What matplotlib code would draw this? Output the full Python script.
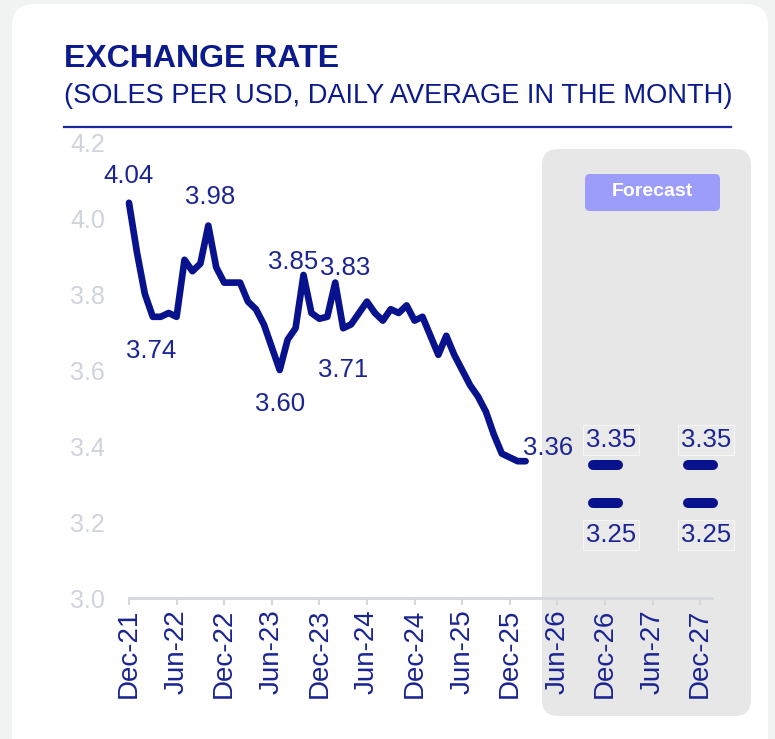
import matplotlib
matplotlib.use('Agg')
import matplotlib.pyplot as plt
import numpy as np
from matplotlib.patches import FancyBboxPatch
from matplotlib.markers import MarkerStyle
from matplotlib.transforms import IdentityTransform

# soles per USD, monthly average of daily rates, Dec-21 .. Feb-26
rate = [4.04, 3.91, 3.80, 3.74, 3.74, 3.75, 3.74, 3.89, 3.86, 3.88,
        3.98, 3.87, 3.83, 3.83, 3.83, 3.78, 3.76, 3.72, 3.66, 3.60,
        3.68, 3.71, 3.85, 3.75, 3.735, 3.74, 3.83, 3.71, 3.72, 3.75,
        3.78, 3.75, 3.73, 3.76, 3.75, 3.77, 3.73, 3.74, 3.69, 3.64,
        3.69, 3.64, 3.60, 3.56, 3.53, 3.49, 3.43, 3.38, 3.37, 3.36, 3.36]

# months (from Dec-21) that get a value label
labeled = [0, 3, 10, 19, 22, 26, 27, 50]

# forecast range for Dec-26 and Dec-27
fc_month = [60, 72]
fc_high = [3.35, 3.35]
fc_low = [3.25, 3.25]

tick_labels = ['Dec-21', 'Jun-22', 'Dec-22', 'Jun-23', 'Dec-23', 'Jun-24', 'Dec-24',
               'Jun-25', 'Dec-25', 'Jun-26', 'Dec-26', 'Jun-27', 'Dec-27']
y_ticks = [3.0, 3.2, 3.4, 3.6, 3.8, 4.0, 4.2]

NAVY = '#07128c'
TXT = '#1a2492'
GREY_TXT = '#cfd3db'
W, H = 775, 739

# label offsets in pixels
offsets = {0: (0, 27), 3: (-2, -34), 10: (2, 29), 19: (0, -34),
           22: (-10, 13), 26: (10, 15), 27: (0, -42), 50: (22, 13)}

fig = plt.figure(figsize=(W / 100, H / 100), dpi=100, facecolor='#f1f2f2')

def px_box(x0, y0, x1, y1, color, r, z):
    # rounded box in pixel coords, y measured from the top
    p = FancyBboxPatch((x0, H - y1), x1 - x0, y1 - y0,
                       boxstyle=f'round,pad=0,rounding_size={r}',
                       transform=IdentityTransform(), facecolor=color,
                       edgecolor='none', zorder=z)
    fig.patches.append(p)

px_box(12, 4, 768, 780, 'white', 22, 0)
px_box(542, 149, 751, 716, '#e7e7e7', 16, 1)

fig.text(64 / W, 1 - 59 / H, 'EXCHANGE RATE', fontsize=23, fontweight='bold',
         color='#0b1a8c', family='Liberation Sans', va='center')
fig.text(64 / W, 1 - 96 / H, '(SOLES PER USD, DAILY AVERAGE IN THE MONTH)', fontsize=19.6,
         color='#0b1a8c', family='Liberation Sans', va='center')
fig.add_artist(plt.Line2D([64 / W, 731 / W], [1 - 127 / H, 1 - 127 / H],
                          color='#1a2a9a', lw=1.6, transform=fig.transFigure))

ax = fig.add_axes([127.4 / W, 141 / H, 587 / W, 456 / H])
ax.set_zorder(5)
ax.patch.set_alpha(0)
ax.set_xlim(-0.2, 73.8)
ax.set_ylim(3.0, 4.2)

months = np.arange(len(rate))
ax.plot(months, rate, color=NAVY, lw=4.8, solid_capstyle='round',
        solid_joinstyle='round', clip_on=False, zorder=3)

for m in labeled:
    dx, dy = offsets[m]
    ax.annotate(f'{rate[m]:.2f}', (m, rate[m]), xytext=(dx, dy),
                textcoords='offset pixels', ha='center', va='center',
                fontsize=18.5, color=TXT, family='Liberation Sans', zorder=4)

dash = MarkerStyle('_', capstyle='round')
for vals, dy in ((fc_high, 25), (fc_low, -32)):
    ax.plot(fc_month, vals, ls='none', marker=dash, markersize=18,
            markeredgewidth=7.2, color=NAVY, zorder=3, clip_on=False)
    for m, v in zip(fc_month, vals):
        ax.annotate(f'{v:.2f}', (m, v), xytext=(6, dy), textcoords='offset pixels',
                    ha='center', va='center', fontsize=18.5, color=TXT,
                    family='Liberation Sans', zorder=4,
                    bbox=dict(boxstyle='square,pad=0.1', facecolor='#eaeaea',
                              edgecolor='#f6f6f6', lw=0.8))

# forecast tag
tag_x = 652
px_box(585, 174, 720, 211, '#9c9cfb', 5, 2)
fig.text(tag_x / W, 1 - 192 / H, 'Forecast', fontsize=14, fontweight='bold',
         color='white', ha='center', va='center', family='Liberation Sans', zorder=3)

ax.set_xticks(np.arange(0, 73, 6))
ax.set_xticklabels(tick_labels, rotation=90, fontsize=20, color=TXT,
                   family='Liberation Sans')
ax.set_yticks(y_ticks)
ax.set_yticklabels([f'{t:.1f}' for t in y_ticks], fontsize=18, color=GREY_TXT,
                   family='Liberation Sans')
ax.tick_params(axis='x', length=5, width=1.5, color='#d3d7de', pad=3)
ax.tick_params(axis='y', length=0, pad=16)

for s in ['top', 'right', 'left']:
    ax.spines[s].set_visible(False)
ax.spines['bottom'].set_color('#d3d7de')
ax.spines['bottom'].set_linewidth(2)
ax.spines['bottom'].set_bounds(0, 73.5)

fig.savefig('out.png', dpi=100, facecolor=fig.get_facecolor())
